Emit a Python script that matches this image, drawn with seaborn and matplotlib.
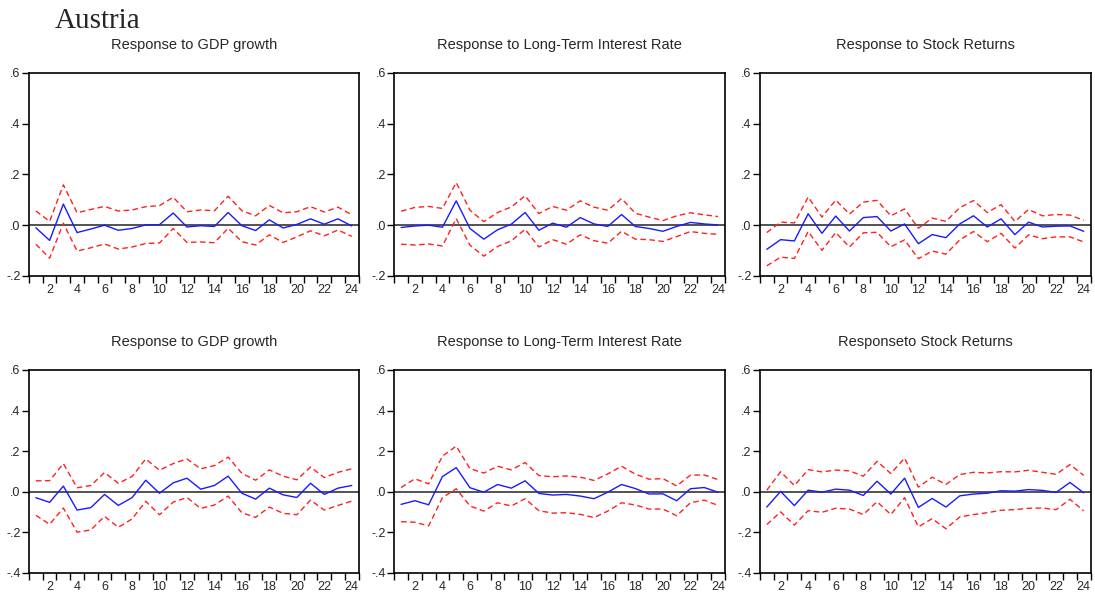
import numpy as np
import pandas as pd
import matplotlib.pyplot as plt
import seaborn as sns

horizon = list(range(1, 25))

# top row
gdp_top = [-0.010, -0.060, 0.083, -0.029, -0.015, 0.000, -0.020, -0.013, 0.001, 0.002, 0.048, -0.007,
           -0.002, -0.005, 0.050, -0.002, -0.021, 0.021, -0.011, 0.003, 0.025, 0.004, 0.025, -0.003]
gdp_top_hi = [0.056, 0.015, 0.159, 0.049, 0.062, 0.074, 0.056, 0.060, 0.073, 0.077, 0.110, 0.053,
              0.060, 0.057, 0.114, 0.057, 0.037, 0.078, 0.049, 0.053, 0.073, 0.052, 0.071, 0.041]
gdp_top_lo = [-0.075, -0.130, 0.008, -0.102, -0.089, -0.074, -0.094, -0.086, -0.072, -0.070, -0.013, -0.068,
              -0.066, -0.069, -0.012, -0.065, -0.078, -0.038, -0.068, -0.046, -0.022, -0.042, -0.019, -0.044]

ltir_top = [-0.009, -0.003, 0.000, -0.008, 0.096, -0.013, -0.055, -0.018, 0.004, 0.050, -0.020, 0.008,
            -0.008, 0.030, 0.005, -0.005, 0.042, -0.005, -0.013, -0.024, -0.005, 0.011, 0.005, 0.001]
ltir_top_hi = [0.055, 0.070, 0.074, 0.066, 0.168, 0.059, 0.014, 0.050, 0.072, 0.116, 0.046, 0.074,
               0.059, 0.096, 0.071, 0.059, 0.105, 0.047, 0.032, 0.018, 0.037, 0.049, 0.041, 0.034]
ltir_top_lo = [-0.075, -0.078, -0.074, -0.082, 0.026, -0.079, -0.122, -0.084, -0.062, -0.016, -0.086, -0.057,
               -0.075, -0.038, -0.061, -0.071, -0.024, -0.055, -0.057, -0.064, -0.045, -0.025, -0.032, -0.036]

stock_top = [-0.095, -0.057, -0.062, 0.045, -0.032, 0.036, -0.023, 0.030, 0.034, -0.023, 0.005, -0.073,
             -0.037, -0.049, 0.005, 0.037, -0.007, 0.025, -0.037, 0.012, -0.007, -0.004, -0.003, -0.024]
stock_top_hi = [-0.029, 0.012, 0.009, 0.111, 0.032, 0.099, 0.044, 0.091, 0.098, 0.037, 0.064, -0.012,
                0.028, 0.015, 0.069, 0.097, 0.050, 0.081, 0.015, 0.062, 0.037, 0.042, 0.040, 0.019]
stock_top_lo = [-0.160, -0.126, -0.131, -0.025, -0.099, -0.029, -0.086, -0.030, -0.028, -0.085, -0.058, -0.132,
                -0.102, -0.114, -0.058, -0.025, -0.065, -0.032, -0.090, -0.038, -0.053, -0.046, -0.046, -0.066]

# bottom row
gdp_bot = [-0.029, -0.052, 0.028, -0.090, -0.078, -0.013, -0.067, -0.029, 0.057, -0.007, 0.044, 0.067,
           0.013, 0.031, 0.077, -0.007, -0.036, 0.018, -0.015, -0.028, 0.042, -0.013, 0.018, 0.031]
gdp_bot_hi = [0.054, 0.055, 0.139, 0.020, 0.031, 0.095, 0.042, 0.075, 0.162, 0.106, 0.139, 0.162,
              0.113, 0.129, 0.171, 0.091, 0.057, 0.108, 0.077, 0.059, 0.122, 0.070, 0.096, 0.113]
gdp_bot_lo = [-0.116, -0.160, -0.080, -0.199, -0.188, -0.121, -0.175, -0.134, -0.047, -0.113, -0.051, -0.028,
              -0.082, -0.065, -0.021, -0.103, -0.126, -0.075, -0.106, -0.113, -0.041, -0.090, -0.067, -0.046]

ltir_bot = [-0.062, -0.044, -0.064, 0.075, 0.119, 0.020, -0.002, 0.036, 0.018, 0.054, -0.008, -0.016,
            -0.013, -0.021, -0.034, -0.002, 0.036, 0.016, -0.011, -0.010, -0.044, 0.015, 0.021, -0.002]
ltir_bot_hi = [0.021, 0.064, 0.039, 0.176, 0.225, 0.114, 0.092, 0.126, 0.108, 0.144, 0.080, 0.074,
               0.078, 0.072, 0.056, 0.088, 0.126, 0.087, 0.062, 0.065, 0.029, 0.082, 0.083, 0.060]
ltir_bot_lo = [-0.147, -0.150, -0.168, -0.029, 0.015, -0.070, -0.095, -0.054, -0.070, -0.034, -0.093, -0.105,
               -0.103, -0.111, -0.127, -0.095, -0.054, -0.065, -0.085, -0.085, -0.118, -0.054, -0.041, -0.067]

stock_bot = [-0.075, 0.002, -0.068, 0.008, -0.002, 0.013, 0.008, -0.018, 0.052, -0.011, 0.067, -0.077,
             -0.033, -0.075, -0.020, -0.011, -0.007, 0.005, 0.003, 0.011, 0.007, -0.003, 0.046, -0.005]
stock_bot_hi = [0.008, 0.099, 0.031, 0.109, 0.098, 0.107, 0.103, 0.077, 0.150, 0.090, 0.166, 0.023,
                0.072, 0.036, 0.085, 0.096, 0.093, 0.099, 0.098, 0.106, 0.096, 0.086, 0.134, 0.081]
stock_bot_lo = [-0.161, -0.099, -0.164, -0.093, -0.101, -0.081, -0.085, -0.112, -0.049, -0.112, -0.029, -0.173,
                -0.132, -0.182, -0.124, -0.112, -0.103, -0.091, -0.088, -0.081, -0.080, -0.088, -0.037, -0.094]

titles_top = ["Response to GDP growth", "Response to Long-Term Interest Rate", "Response to Stock Returns"]
titles_bot = ["Response to GDP growth", "Response to Long-Term Interest Rate", "Responseto Stock Returns"]

sns.set_style("ticks")
plt.rcParams['font.family'] = ['Liberation Sans', 'DejaVu Sans']

fig = plt.figure(figsize=(10.95, 5.96), dpi=100)

lefts = [0.0265, 0.360, 0.694]
widths = [0.301, 0.302, 0.302]

panels = [
    (0.537, 0.3406, titles_top, [(gdp_top, gdp_top_hi, gdp_top_lo),
                                 (ltir_top, ltir_top_hi, ltir_top_lo),
                                 (stock_top, stock_top_hi, stock_top_lo)], (-0.2, 0.6)),
    (0.0386, 0.3406, titles_bot, [(gdp_bot, gdp_bot_hi, gdp_bot_lo),
                                  (ltir_bot, ltir_bot_hi, ltir_bot_lo),
                                  (stock_bot, stock_bot_hi, stock_bot_lo)], (-0.4, 0.6)),
]


def fmt(v):
    s = f"{v:.1f}"
    return s.replace("0.", ".")


for bottom, height, titles, series, ylim in panels:
    for i in range(3):
        ax = fig.add_axes([lefts[i], bottom, widths[i], height])
        mid, hi, lo = series[i]
        df = pd.DataFrame({"h": horizon, "mid": mid, "hi": hi, "lo": lo})
        ax.axhline(0, color="#444444", lw=1.3, zorder=1)
        sns.lineplot(data=df, x="h", y="hi", ax=ax, color="#ff2020", lw=1.0,
                     linestyle=(0, (4, 2.5)), zorder=2)
        sns.lineplot(data=df, x="h", y="lo", ax=ax, color="#ff2020", lw=1.0,
                     linestyle=(0, (4, 2.5)), zorder=2)
        sns.lineplot(data=df, x="h", y="mid", ax=ax, color="#1a1aff", lw=1.0, zorder=3)
        ax.set_xlim(0.5, 24.5)
        ax.set_ylim(*ylim)
        yt = np.round(np.arange(ylim[0], ylim[1] + 0.01, 0.2), 1)
        ax.set_yticks(yt)
        ax.set_yticklabels([fmt(v) for v in yt])
        ax.set_xticks(range(2, 25, 2))
        ax.set_xticks(np.arange(0.5, 24.6, 1), minor=True)
        ax.tick_params(axis="x", which="major", length=0, pad=6, labelsize=9)
        ax.tick_params(axis="x", which="minor", length=5, width=1, direction="out", color="black")
        ax.tick_params(axis="y", length=5, width=1, direction="out", labelsize=9, pad=1, color="black")
        for sp in ax.spines.values():
            sp.set_visible(True)
            sp.set_color("black")
            sp.set_linewidth(1.2)
        ax.set_xlabel("")
        ax.set_ylabel("")
        ax.set_title(titles[i], fontsize=10.5, pad=17)

fig.text(0.05, 0.965, "Austria", family=["Liberation Serif", "DejaVu Serif"], fontsize=21, va="center", ha="left")

fig.savefig("out.png", dpi=100)
